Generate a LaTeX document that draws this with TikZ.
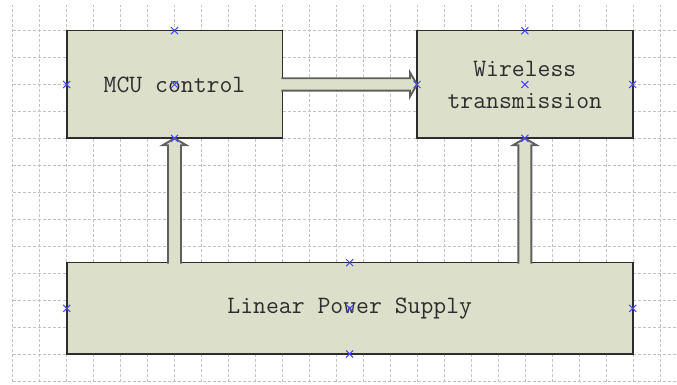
\documentclass[tikz,border=0pt]{standalone}
\usepackage{tikz}
\usetikzlibrary{positioning,calc}
\definecolor{blockfill}{RGB}{220,224,202}
\definecolor{blockframe}{RGB}{45,45,45}
\definecolor{arrowframe}{RGB}{95,95,95}
\definecolor{gridgray}{RGB}{195,195,195}
\definecolor{markblue}{RGB}{70,70,255}
\definecolor{labelgray}{RGB}{45,45,45}

\begin{document}
\begin{tikzpicture}[
  x=1pt, y=1pt,
  font=\ttfamily\fontsize{25}{32}\selectfont,
  blk/.style={rectangle, draw=blockframe, fill=blockfill, line width=1.6pt,
              inner sep=0pt, outer sep=0pt, align=center, text=labelgray},
  fatarrow/.style={fill=blockfill, draw=arrowframe, line width=1.9pt, line join=miter},
  gridline/.style={draw=gridgray, dash pattern=on 3pt off 2pt, line width=1pt},
  conpt/.style={draw=markblue, line width=1pt}
]
\useasboundingbox (0,0) rectangle (677,385);

% Background grid
\draw[gridline, xshift=12.7pt, yshift=3.3pt, step=27pt] (0,0) grid (664.3,377);

% Top row: controller and radio
\node[blk, minimum width=215.6pt, minimum height=107.6pt] (mcu) at (174.5,300.5) {MCU control};
\node[blk, minimum width=215.7pt, minimum height=107.6pt, right=134.7pt of mcu] (wls) {Wireless\\transmission};

% Bottom row: supply across the full width
\node[blk, minimum width=566pt, minimum height=91.3pt] (pwr) at (349.7,76.65) {Linear Power Supply};

% Block arrow: MCU -> wireless
\filldraw[fatarrow] ($(mcu.east)+(-1,6.2)$) -- ($(wls.west)+(-7,6.2)$) -- ($(wls.west)+(-7,12)$)
  -- (wls.west) -- ($(wls.west)+(-7,-12)$) -- ($(wls.west)+(-7,-6.2)$) -- ($(mcu.east)+(-1,-6.2)$);

% Block arrows: supply -> both upper blocks
\filldraw[fatarrow] ($(mcu.south |- pwr.north)+(-6.5,-1)$) -- ($(mcu.south)+(-6.5,-7)$) -- ($(mcu.south)+(-12,-7)$)
  -- (mcu.south) -- ($(mcu.south)+(12,-7)$) -- ($(mcu.south)+(6.5,-7)$) -- ($(mcu.south |- pwr.north)+(6.5,-1)$);
\filldraw[fatarrow] ($(wls.south |- pwr.north)+(-6.5,-1)$) -- ($(wls.south)+(-6.5,-7)$) -- ($(wls.south)+(-12,-7)$)
  -- (wls.south) -- ($(wls.south)+(12,-7)$) -- ($(wls.south)+(6.5,-7)$) -- ($(wls.south |- pwr.north)+(6.5,-1)$);

% Connection point markers
\foreach \p in {mcu.north, mcu.west, mcu.center, mcu.south,
                wls.north, wls.west, wls.center, wls.east, wls.south,
                pwr.north, pwr.west, pwr.center, pwr.east, pwr.south}
  \draw[conpt] ($(\p)+(-3.5,-3.5)$) -- ($(\p)+(3.5,3.5)$) ($(\p)+(-3.5,3.5)$) -- ($(\p)+(3.5,-3.5)$);
\end{tikzpicture}
\end{document}
